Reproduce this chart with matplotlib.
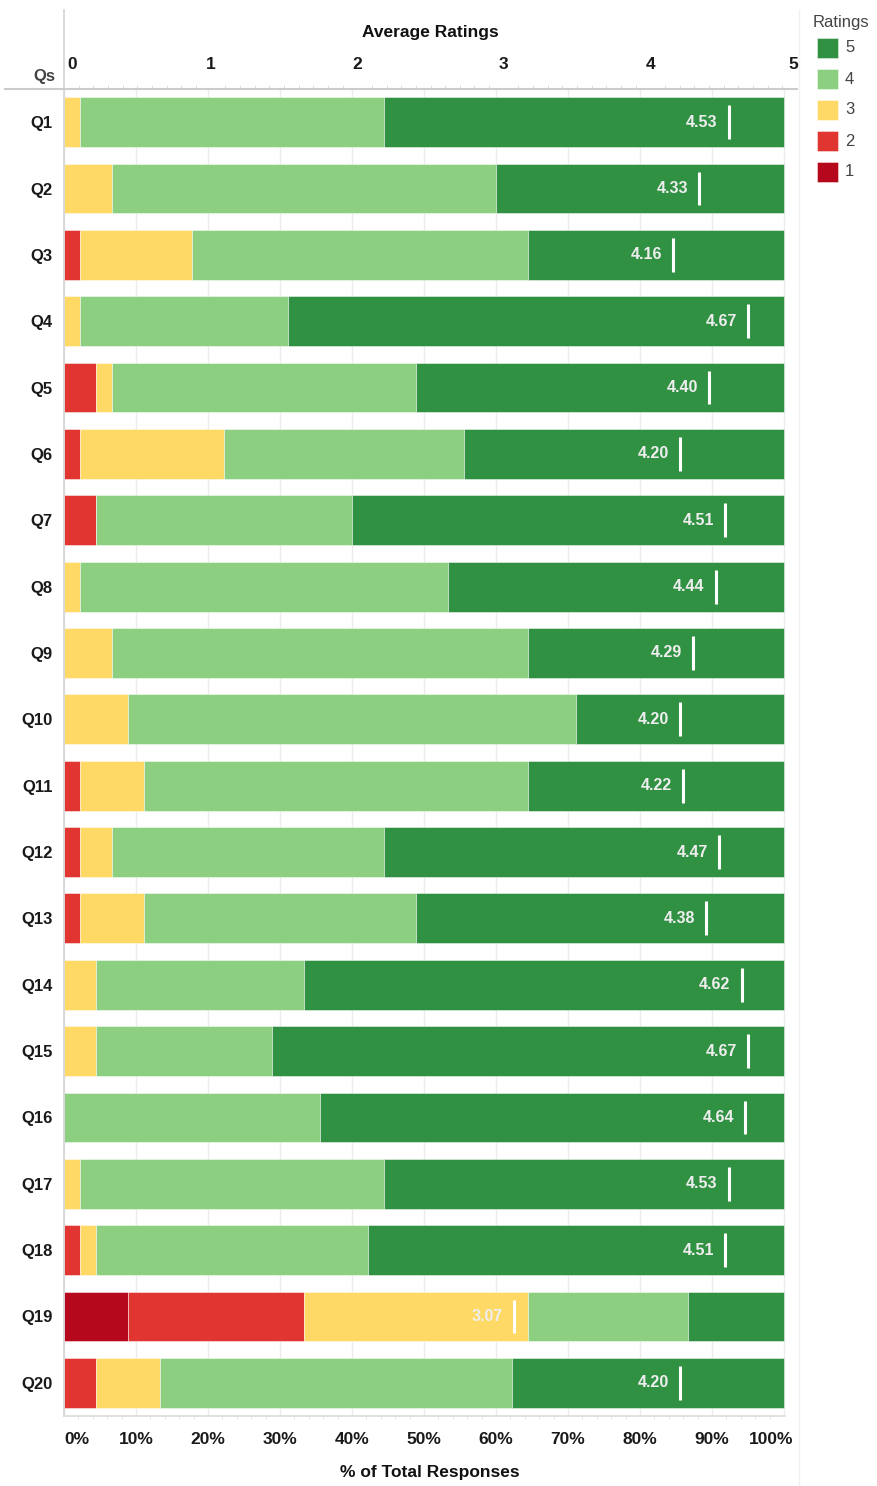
import matplotlib
matplotlib.use("Agg")
import matplotlib.pyplot as plt
import numpy as np
from matplotlib.lines import Line2D
from matplotlib.patches import Rectangle
import matplotlib.transforms as mtrans

plt.rcParams['font.family'] = ['Liberation Sans', 'DejaVu Sans']

# ---------------- data (response counts per rating) ----------------
questions = [f"Q{i}" for i in range(1, 21)]
rating1 = [0, 0, 0, 0, 0, 0, 0, 0, 0, 0, 0, 0, 0, 0, 0, 0, 0, 0, 4, 0]
rating2 = [0, 0, 1, 0, 2, 1, 2, 0, 0, 0, 1, 1, 1, 0, 0, 0, 0, 1, 11, 2]
rating3 = [1, 3, 7, 1, 1, 9, 0, 1, 3, 4, 4, 2, 4, 2, 2, 0, 1, 1, 14, 4]
rating4 = [19, 24, 21, 13, 19, 15, 16, 23, 26, 28, 24, 17, 17, 13, 11, 16, 19, 17, 10, 22]
rating5 = [25, 18, 16, 31, 23, 20, 27, 21, 16, 13, 16, 25, 23, 30, 32, 29, 25, 26, 6, 17]
ratings = ["5", "4", "3", "2", "1"]
colors = {"5": "#319143", "4": "#8dcf80", "3": "#fed966", "2": "#e03531", "1": "#b5081d"}
pct_ticks = list(range(0, 101, 10))
avg_ticks = [0, 1, 2, 3, 4, 5]

counts = np.array([rating1, rating2, rating3, rating4, rating5], dtype=float)
totals = counts.sum(axis=0)
pct = counts / totals * 100
averages = (counts * np.arange(1, 6)[:, None]).sum(axis=0) / totals

# ---------------- figure ----------------
W, H = 877, 1486
fig = plt.figure(figsize=(W / 100, H / 100), dpi=100)


def fx(px):
    return px / W


def fy(py):
    return 1 - py / H


ax = fig.add_axes([fx(64), fy(1416), fx(797) - fx(64), fy(89) - fy(1416)])
xmax_pct = 100 * 733 / 720
ax.set_xlim(0, xmax_pct)
y = np.arange(len(questions))
ax.set_ylim(len(questions) - 0.5, -0.5)

left = np.zeros(len(questions))
for i in range(5):
    key = str(i + 1)
    ax.barh(y, pct[i], left=left, height=0.75, color=colors[key],
            edgecolor=(1, 1, 1, 0.55), linewidth=0.6, zorder=2)
    left += pct[i]

for s in ax.spines.values():
    s.set_visible(False)

ax.set_xticks(pct_ticks)
ax.set_xticklabels([f"{t}%" for t in pct_ticks])
ax.set_xticks(np.arange(0, 101, 2), minor=True)
ax.tick_params(axis='x', which='major', length=0, pad=11.5, labelsize=12.5, labelcolor='#1a1a1a')
ax.tick_params(axis='x', which='minor', length=2.5, color='#dedede', direction='out')
for lab in ax.get_xticklabels():
    lab.set_fontweight('bold')
labs = ax.get_xticklabels()
labs[0].set_ha('left')
labs[-1].set_ha('right')
labs[-1].set_transform(labs[-1].get_transform() + mtrans.ScaledTranslation(9 / 100, 0, fig.dpi_scale_trans))
ax.grid(axis='x', which='major', color='#ececec', linewidth=1, zorder=0)
ax.set_axisbelow(True)

ax.set_yticks(y)
ax.set_yticklabels(questions)
ax.tick_params(axis='y', length=0, pad=8, labelsize=12, labelcolor='#1a1a1a')
for lab in ax.get_yticklabels():
    lab.set_fontweight('bold')

# top axis: average ratings
axt = ax.twiny()
axt.set_xlim(0, 5)
for s in axt.spines.values():
    s.set_visible(False)
axt.set_xticks(avg_ticks)
axt.set_xticklabels([str(t) for t in avg_ticks])
axt.set_xticks(np.arange(0, 5.01, 0.1), minor=True)
axt.tick_params(axis='x', which='major', length=0, pad=12, labelsize=12.5, labelcolor='#1a1a1a')
axt.tick_params(axis='x', which='minor', length=3, color='#d8d8d8', direction='out')
tl = axt.get_xticklabels()
for lab in tl:
    lab.set_fontweight('bold')
tl[0].set_ha('left')
tl[0].set_transform(tl[0].get_transform() + mtrans.ScaledTranslation(3 / 100, 0, fig.dpi_scale_trans))
tl[-1].set_ha('right')
tl[-1].set_transform(tl[-1].get_transform() + mtrans.ScaledTranslation(1 / 100, 0, fig.dpi_scale_trans))

axt.vlines(averages, y - 0.255, y + 0.255, color='white', linewidth=2.2, zorder=5)
for yi, a in zip(y, averages):
    axt.annotate(f"{a:.2f}", xy=(a, yi), xytext=(-8, 0), textcoords='offset points',
                 ha='right', va='center', fontsize=11.5, fontweight='bold', color='#eeeeee', zorder=6)

# frame lines
fig.add_artist(Line2D([fx(64), fx(64)], [fy(10), fy(1416)], transform=fig.transFigure, color='#d4d4d4', lw=1.2))
fig.add_artist(Line2D([fx(5), fx(797)], [fy(89), fy(89)], transform=fig.transFigure, color='#cccccc', lw=1.5))
fig.add_artist(Line2D([fx(64), fx(785)], [fy(1416), fy(1416)], transform=fig.transFigure, color='#dcdcdc', lw=1.2))
fig.add_artist(Line2D([fx(799), fx(799)], [fy(10), fy(1486)], transform=fig.transFigure, color='#f1f1f1', lw=1))

# titles
fig.text(fx(430), fy(33), "Average Ratings", ha='center', va='center', fontsize=12.5, fontweight='bold', color='#111111')
fig.text(fx(430), fy(1473), "% of Total Responses", ha='center', va='center', fontsize=12.5, fontweight='bold', color='#111111')
fig.text(fx(55), fy(77), "Qs", ha='right', va='center', fontsize=12, fontweight='bold', color='#444444')

# legend
fig.text(fx(813), fy(22), "Ratings", ha='left', va='center', fontsize=12, color='#444444')
for i, r in enumerate(ratings):
    cy = 48 + 31 * i
    fig.add_artist(Rectangle((fx(817), fy(cy + 10)), fx(21), 20 / H, transform=fig.transFigure,
                             facecolor=colors[r], edgecolor=(1, 1, 1, 0.5), lw=0.6))
    fig.text(fx(845), fy(cy), r, ha='left', va='center', fontsize=12, color='#444444')

fig.savefig("out.png", dpi=100)
